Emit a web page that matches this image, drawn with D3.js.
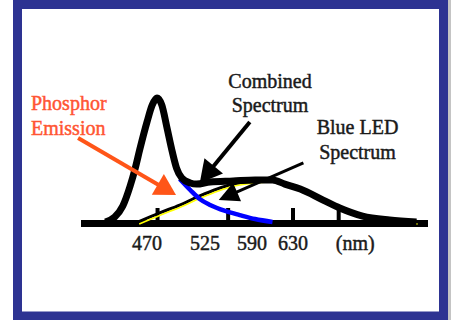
<!DOCTYPE html>
<html>
<head>
<meta charset="utf-8">
<script src="https://cdn.jsdelivr.net/npm/d3@7"></script>
<style>
  body { margin: 0; background: #fff; }
  svg { display: block; }
</style>
</head>
<body>
<svg id="chart" width="451" height="320"></svg>
<script>
// wavelength (nm) and relative intensity
var combinedNm  = [413, 426, 437, 447, 454, 460, 470, 475, 479.5, 484, 489, 494, 498, 503, 511, 517, 532, 564, 593, 610, 622, 637, 659, 675, 697, 723, 749];
var combinedVal = [0, 4.0, 12.9, 29.0, 43.5, 58.1, 80.6, 94.4, 100, 94.4, 75.8, 56.5, 43.5, 35.5, 31.5, 30.6, 32.3, 33.1, 33.9, 33.9, 30.6, 26.6, 17.7, 11.3, 4.8, 1.6, 0];

var phosphorNm  = [458, 482, 501, 520, 542, 564, 593, 610, 622, 637, 659, 675, 697, 723, 749];
var phosphorVal = [0, 7.3, 13.7, 21.0, 26.6, 30.6, 33.1, 33.9, 30.6, 26.6, 17.7, 11.3, 4.8, 1.6, 0];

// visible tail of the blue LED peak
var blueNm  = [501, 511, 520, 532, 553, 573, 593, 610];
var blueVal = [34.7, 25.8, 18.5, 13.7, 8.9, 5.6, 2.4, 0];

var tickLabels = [470, 525, 590, 630];
var tickMarks  = [480, 557, 630, 674];
var unitLabel  = "(nm)";

// callouts: label lines, arrow tail and tip as [nm, intensity]
var phosphorNote = { lines: ["Phosphor", "Emission"], from: [376, 67.7], to: [497.5, 21.8] };
var combinedNote = { lines: ["Combined", "Spectrum"], from: [587, 80.6], to: [520, 31.5] };
var blueNote     = { lines: ["Blue LED", "Spectrum"], from: [640, 47.6], to: [544, 17.7] };

var svg = d3.select("#chart");

// the figure's axis is not evenly spaced, so the scale is piecewise
var x = d3.scaleLinear()
    .domain([380, 470, 525, 590, 630, 760])
    .range([81, 147, 205, 252, 293, 428]);
var y = d3.scaleLinear().domain([0, 100]).range([222, 98]);

// frame
svg.append("rect").attr("x", 448).attr("y", 0).attr("width", 3).attr("height", 320).attr("fill", "#c4c4c4");
svg.append("rect")
    .attr("x", 17.5).attr("y", 4.5).attr("width", 426).attr("height", 311.5)
    .attr("fill", "#fff").attr("stroke", "#2d3392").attr("stroke-width", 9);

// axis
svg.append("line")
    .attr("x1", x(380)).attr("x2", x(760))
    .attr("y1", y(0) + 1.5).attr("y2", y(0) + 1.5)
    .attr("stroke", "#000").attr("stroke-width", 7);

svg.selectAll(".tick").data(tickMarks).enter().append("line")
    .attr("class", "tick")
    .attr("x1", (d) => x(d)).attr("x2", (d) => x(d))
    .attr("y1", y(0) - 14).attr("y2", y(0))
    .attr("stroke", "#000").attr("stroke-width", 4);

// blurry Times look: regular weight with a thin outline
var textStyle = function(sel, color) {
    sel.attr("font-family", "'Liberation Serif', 'DejaVu Serif', serif")
       .attr("font-size", 20)
       .attr("fill", color)
       .attr("stroke", color)
       .attr("stroke-width", 0.45);
};

svg.selectAll(".tlabel").data(tickLabels).enter().append("text")
    .attr("class", "tlabel")
    .attr("x", (d) => x(d)).attr("y", 250)
    .attr("text-anchor", "middle")
    .call(textStyle, "#1a1a1a")
    .text((d) => d);
svg.append("text").attr("x", x(690)).attr("y", 250).attr("text-anchor", "middle")
    .call(textStyle, "#1a1a1a").text(unitLabel);

// curves
var line = d3.line()
    .x((d) => x(d[0]))
    .y((d) => y(d[1]))
    .curve(d3.curveMonotoneX);

var phosphor = d3.zip(phosphorNm, phosphorVal),
    blue = d3.zip(blueNm, blueVal),
    combined = d3.zip(combinedNm, combinedVal);

svg.append("path").datum(phosphor).attr("d", line)
    .attr("fill", "none").attr("stroke", "#000").attr("stroke-width", 3);
svg.append("path").datum(phosphor).attr("d", line)
    .attr("transform", "translate(1,2)")
    .attr("fill", "none").attr("stroke", "#ffff00").attr("stroke-width", 1.6);

svg.append("path").datum(blue).attr("d", line)
    .attr("fill", "none").attr("stroke", "#0000ff").attr("stroke-width", 4.5);

svg.append("path").datum(combined).attr("d", line)
    .attr("fill", "none").attr("stroke", "#000").attr("stroke-width", 7)
    .attr("stroke-linejoin", "round");

// arrows
function arrow(note, color, width, headLen, headW) {
    var x1 = x(note.from[0]), y1 = y(note.from[1]),
        x2 = x(note.to[0]), y2 = y(note.to[1]);
    var dx = x2 - x1, dy = y2 - y1, len = Math.sqrt(dx * dx + dy * dy);
    var ux = dx / len, uy = dy / len;
    var bx = x2 - ux * headLen, by = y2 - uy * headLen;
    svg.append("line")
        .attr("x1", x1).attr("y1", y1)
        .attr("x2", bx + ux * 3).attr("y2", by + uy * 3)
        .attr("stroke", color).attr("stroke-width", width);
    svg.append("path")
        .attr("d", "M" + x2 + "," + y2 +
                   "L" + (bx - uy * headW / 2) + "," + (by + ux * headW / 2) +
                   "L" + (bx + uy * headW / 2) + "," + (by - ux * headW / 2) + "Z")
        .attr("fill", color);
}

arrow(phosphorNote, "#ff5518", 4, 21, 24);
arrow(combinedNote, "#000", 4, 22, 24);
arrow(blueNote, "#000", 3, 20, 20);

// callout text
function note(n, cx, y0, color, anchor) {
    svg.append("text")
        .attr("x", cx).attr("y", y0)
        .attr("text-anchor", anchor)
        .call(textStyle, color)
        .selectAll("tspan").data(n.lines).enter().append("tspan")
            .attr("x", cx)
            .attr("dy", (d, i) => i ? 24.5 : 0)
            .text((d) => d);
}

note(phosphorNote, 31, 110, "#ff5533", "start");
note(combinedNote, 270, 87.5, "#1a1a1a", "middle");
note(blueNote, 357.5, 134, "#1a1a1a", "middle");
</script>
</body>
</html>
